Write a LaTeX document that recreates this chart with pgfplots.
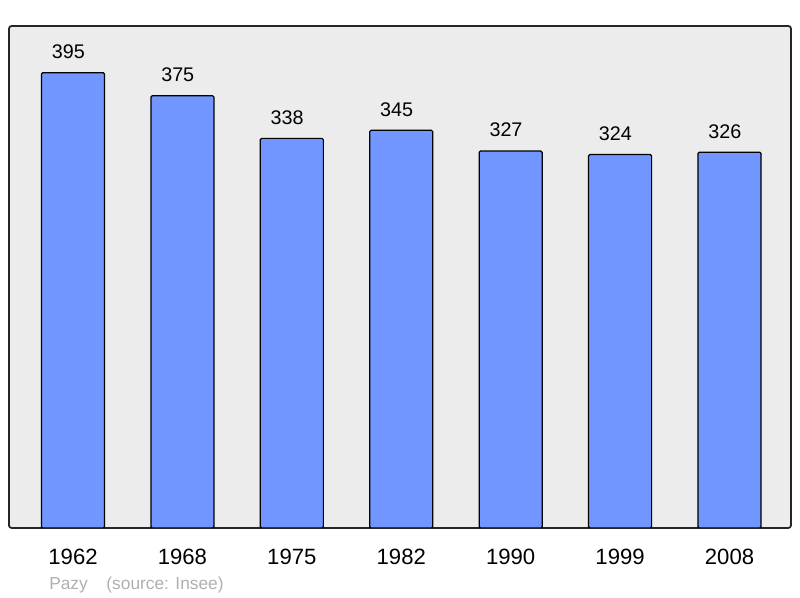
\documentclass[border=0pt]{standalone}
\usepackage{pgfplots}
\pgfplotsset{compat=1.18}
\usepackage{fontspec}
\setmainfont{Liberation Sans}
\definecolor{bgc}{HTML}{ECECEC}
\definecolor{barc}{HTML}{7196FF}
\definecolor{srcc}{HTML}{B0B0B0}
\begin{document}
\begin{tikzpicture}
\useasboundingbox (0,0) rectangle (600pt,448.5pt);
\begin{axis}[
  at={(6.75pt,52.5pt)}, anchor=south west,
  scale only axis, width=586.5pt, height=376.5pt,
  xmin=-0.585, xmax=6.562, ymin=0, ymax=435.5,
  axis background/.style={fill=bgc},
  axis line style={line width=1.3pt, rounded corners=2pt, black!85},
  xtick=data,
  xticklabels={1962,1968,1975,1982,1990,1999,2008},
  xticklabel style={anchor=center, yshift=-21.75pt, font=\fontsize{16.6pt}{18pt}\selectfont},
  major tick length=0pt,
  ytick=\empty,
  nodes near coords,
  every node near coord/.append style={anchor=center, yshift=15.75pt, xshift=-3.5pt, font=\fontsize{14.8pt}{16pt}\selectfont, black},
  point meta=explicit symbolic,
]
\addplot[ybar, bar width=0.576, fill=barc, draw=black, line width=0.9pt, rounded corners=1pt]
  coordinates {(0,395)[395] (1,375)[375] (2,338)[338] (3,345)[345] (4,327)[327] (5,324)[324] (6,326)[326]};
\end{axis}
\node[anchor=west, text=srcc, font=\fontsize{13pt}{15pt}\selectfont, inner sep=0pt] at (36.75pt,9.75pt) {Pazy\hspace{14pt}(source: Insee)};
\end{tikzpicture}
\end{document}
